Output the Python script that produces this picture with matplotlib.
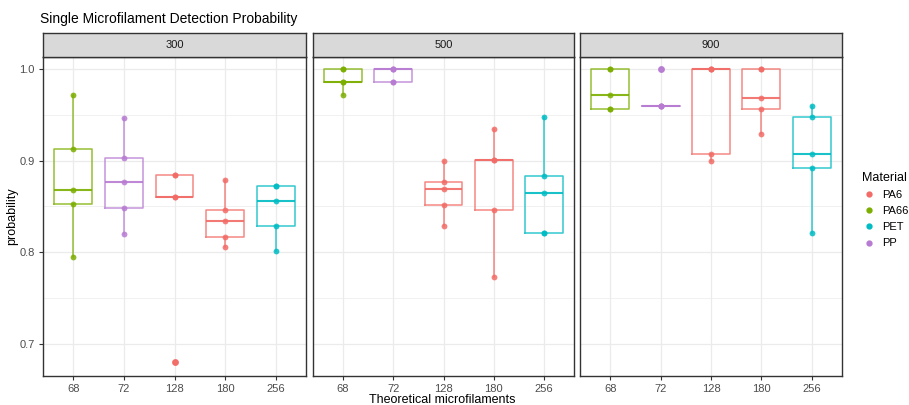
import matplotlib
matplotlib.use("Agg")
import matplotlib.pyplot as plt
from matplotlib.lines import Line2D
import numpy as np

plt.rcParams['font.family'] = ['Liberation Sans', 'DejaVu Sans']

# ---- data ----
panels = ["300", "500", "900"]
categories = ["68", "72", "128", "180", "256"]
cat_material = ["PA66", "PP", "PA6", "PA6", "PET"]
materials = ["PA6", "PA66", "PET", "PP"]
material_colors = {"PA6": "#F26B66", "PA66": "#7CAE00", "PET": "#00BCC4", "PP": "#B77BD2"}

values_300 = [
    [0.972, 0.913, 0.868, 0.853, 0.795],
    [0.946, 0.903, 0.877, 0.848, 0.820],
    [0.884, 0.884, 0.860, 0.860, 0.680],
    [0.879, 0.846, 0.834, 0.817, 0.806],
    [0.872, 0.872, 0.856, 0.829, 0.801],
]
values_500 = [
    [1.000, 1.000, 0.986, 0.986, 0.972],
    [1.000, 1.000, 1.000, 0.986, 0.986],
    [0.900, 0.877, 0.869, 0.852, 0.829],
    [0.934, 0.901, 0.901, 0.846, 0.773],
    [0.947, 0.883, 0.865, 0.821, 0.821],
]
values_900 = [
    [1.000, 1.000, 0.972, 0.956, 0.956],
    [1.000, 0.960, 0.960, 0.960, 0.960],
    [1.000, 1.000, 1.000, 0.907, 0.900],
    [1.000, 1.000, 0.968, 0.956, 0.929],
    [0.959, 0.947, 0.907, 0.892, 0.821],
]
panel_values = [values_300, values_500, values_900]

# ---- figure ----
W, H = 909, 405
fig = plt.figure(figsize=(W / 100, H / 100), dpi=100)

def fx(px):
    return px / W

def fy(py):
    return 1 - py / H

panel_x = [(43, 306), (313, 574), (580, 842)]
top_px, bot_px, strip_top_px = 57, 376, 33
border_col = "#333333"
grid_col = "#EBEBEB"

for pi, (pname, vals) in enumerate(zip(panels, panel_values)):
    x0, x1 = panel_x[pi]
    ax = fig.add_axes([fx(x0), fy(bot_px), fx(x1 - x0), (bot_px - top_px) / H])
    ax.set_xlim(0.4, 5.6)
    ax.set_ylim(0.665, 1.013)
    ax.set_yticks([0.7, 0.8, 0.9, 1.0])
    ax.set_yticks([0.75, 0.85, 0.95], minor=True)
    ax.set_xticks(range(1, 6))
    ax.set_xticklabels(categories)
    ax.grid(True, which='major', color=grid_col, linewidth=0.9)
    ax.grid(True, which='minor', axis='y', color=grid_col, linewidth=0.5)
    ax.set_axisbelow(True)
    ax.tick_params(axis='both', which='major', length=3, color=border_col,
                   labelsize=8, labelcolor="#4D4D4D", pad=3)
    ax.tick_params(axis='y', which='minor', length=0)
    if pi == 0:
        ax.set_yticklabels(["0.7", "0.8", "0.9", "1.0"])
    else:
        ax.tick_params(axis='y', which='major', length=0, labelleft=False)
    for s in ax.spines.values():
        s.set_color(border_col)
        s.set_linewidth(1.0)

    for ci, v in enumerate(vals):
        col = material_colors[cat_material[ci]]
        pos = ci + 1
        ax.boxplot([v], positions=[pos], widths=0.75, whis=1.5, showcaps=False,
                   boxprops=dict(color=col, linewidth=1.1, alpha=0.8),
                   whiskerprops=dict(color=col, linewidth=1.1, alpha=0.8),
                   medianprops=dict(color=col, linewidth=1.5, alpha=0.9),
                   flierprops=dict(marker='o', markerfacecolor=col, markeredgecolor=col,
                                   markersize=4, alpha=0.8),
                   manage_ticks=False)
        ax.plot([pos] * len(v), v, 'o', color=col, markersize=4.2, alpha=0.85,
                markeredgewidth=0, zorder=5)

    # strip
    sax = fig.add_axes([fx(x0), fy(top_px), fx(x1 - x0), (top_px - strip_top_px) / H])
    sax.set_xticks([])
    sax.set_yticks([])
    sax.set_facecolor("#D9D9D9")
    for s in sax.spines.values():
        s.set_color(border_col)
        s.set_linewidth(1.0)
    sax.text(0.5, 0.5, pname, transform=sax.transAxes, ha='center', va='center',
             fontsize=8, color="#1A1A1A")

fig.text(fx(40), fy(19), "Single Microfilament Detection Probability", fontsize=10,
         ha='left', va='center', color="black")
fig.text(fx(12), fy((top_px + bot_px) / 2), "probability", rotation=90, fontsize=9,
         ha='center', va='center', color="black")
fig.text(fx(442), fy(400), "Theoretical microfilaments", fontsize=9,
         ha='center', va='center', color="black")

handles = [Line2D([0], [0], marker='o', linestyle='', color=material_colors[m],
                  markersize=3.5) for m in materials]
leg = fig.legend(handles, materials, title="Material", loc='upper left',
                 bbox_to_anchor=(fx(852), fy(162)), frameon=False, fontsize=8,
                 title_fontsize=9, handletextpad=0.6, labelspacing=0.55,
                 handlelength=1.2)
leg._legend_box.align = "left"

fig.savefig("out.png", dpi=100)
